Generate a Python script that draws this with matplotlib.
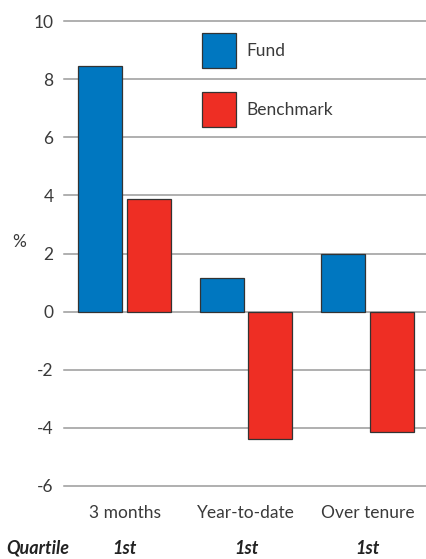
import matplotlib
matplotlib.use("Agg")
import matplotlib.pyplot as plt
from matplotlib.patches import Rectangle
import numpy as np

categories = ["3 months", "Year-to-date", "Over tenure"]
fund = [8.45, 1.17, 2.0]
benchmark = [3.86, -4.38, -4.15]
quartiles = ["1st", "1st", "1st"]
yticks = [-6, -4, -2, 0, 2, 4, 6, 8, 10]

BLUE = "#0077C0"
RED = "#EE2E24"
TXT = "#3a3a3a"
GRID = "#9a9a9a"

plt.rcParams["font.family"] = ["Lato", "DejaVu Sans"]

W, H = 426, 559
fig = plt.figure(figsize=(W / 100, H / 100), dpi=100)
ax = fig.add_axes([64 / W, (H - 486) / H, (426 - 64) / W, (486 - 21) / H])

x = np.arange(len(categories))
bw = 0.362
off = 0.201
ax.bar(x - off, fund, bw, color=BLUE, edgecolor="#333333", linewidth=0.9, zorder=3, label="Fund")
ax.bar(x + off, benchmark, bw, color=RED, edgecolor="#333333", linewidth=0.9, zorder=3, label="Benchmark")

ax.set_xlim(-0.498, 2.481)
ax.set_ylim(-6, 10)
ax.set_yticks(yticks)
ax.set_yticklabels([str(v) for v in yticks])
for v in yticks:
    ax.axhline(v, color=GRID, linewidth=1.1, zorder=1, clip_on=False)
for s in ax.spines.values():
    s.set_visible(False)
ax.tick_params(axis="y", length=0, pad=7.5, labelsize=12.5, labelcolor=TXT)
ax.set_xticks(x)
ax.set_xticklabels(categories)
ax.tick_params(axis="x", length=0, pad=14, labelsize=12.5, labelcolor=TXT)

fig.text(19 / W, 1 - 242 / H, "%", fontsize=12.5, color=TXT, ha="center", va="center")

# Quartile row
qkw = dict(fontsize=13, color="#222222", fontweight="bold", fontstyle="italic", va="baseline")
fig.text(6 / W, 1 - 554 / H, "Quartile", ha="left", **qkw)
for xi, q in zip(x, quartiles):
    xf = ax.transData.transform((xi, 0))[0] / W
    fig.text(xf, 1 - 554 / H, q, ha="center", **qkw)

# Legend (manual squares)
for (label, color, top) in [("Fund", BLUE, 33), ("Benchmark", RED, 92)]:
    fig.patches.append(Rectangle((202 / W, 1 - (top + 35) / H), 34 / W, 35 / H,
                                 transform=fig.transFigure, facecolor=color,
                                 edgecolor="#333333", linewidth=0.9, zorder=5))
    fig.text(246 / W, 1 - (top + 18) / H, label, fontsize=12.5, color=TXT,
             ha="left", va="center")

fig.savefig("out.png", dpi=100, facecolor="white")
